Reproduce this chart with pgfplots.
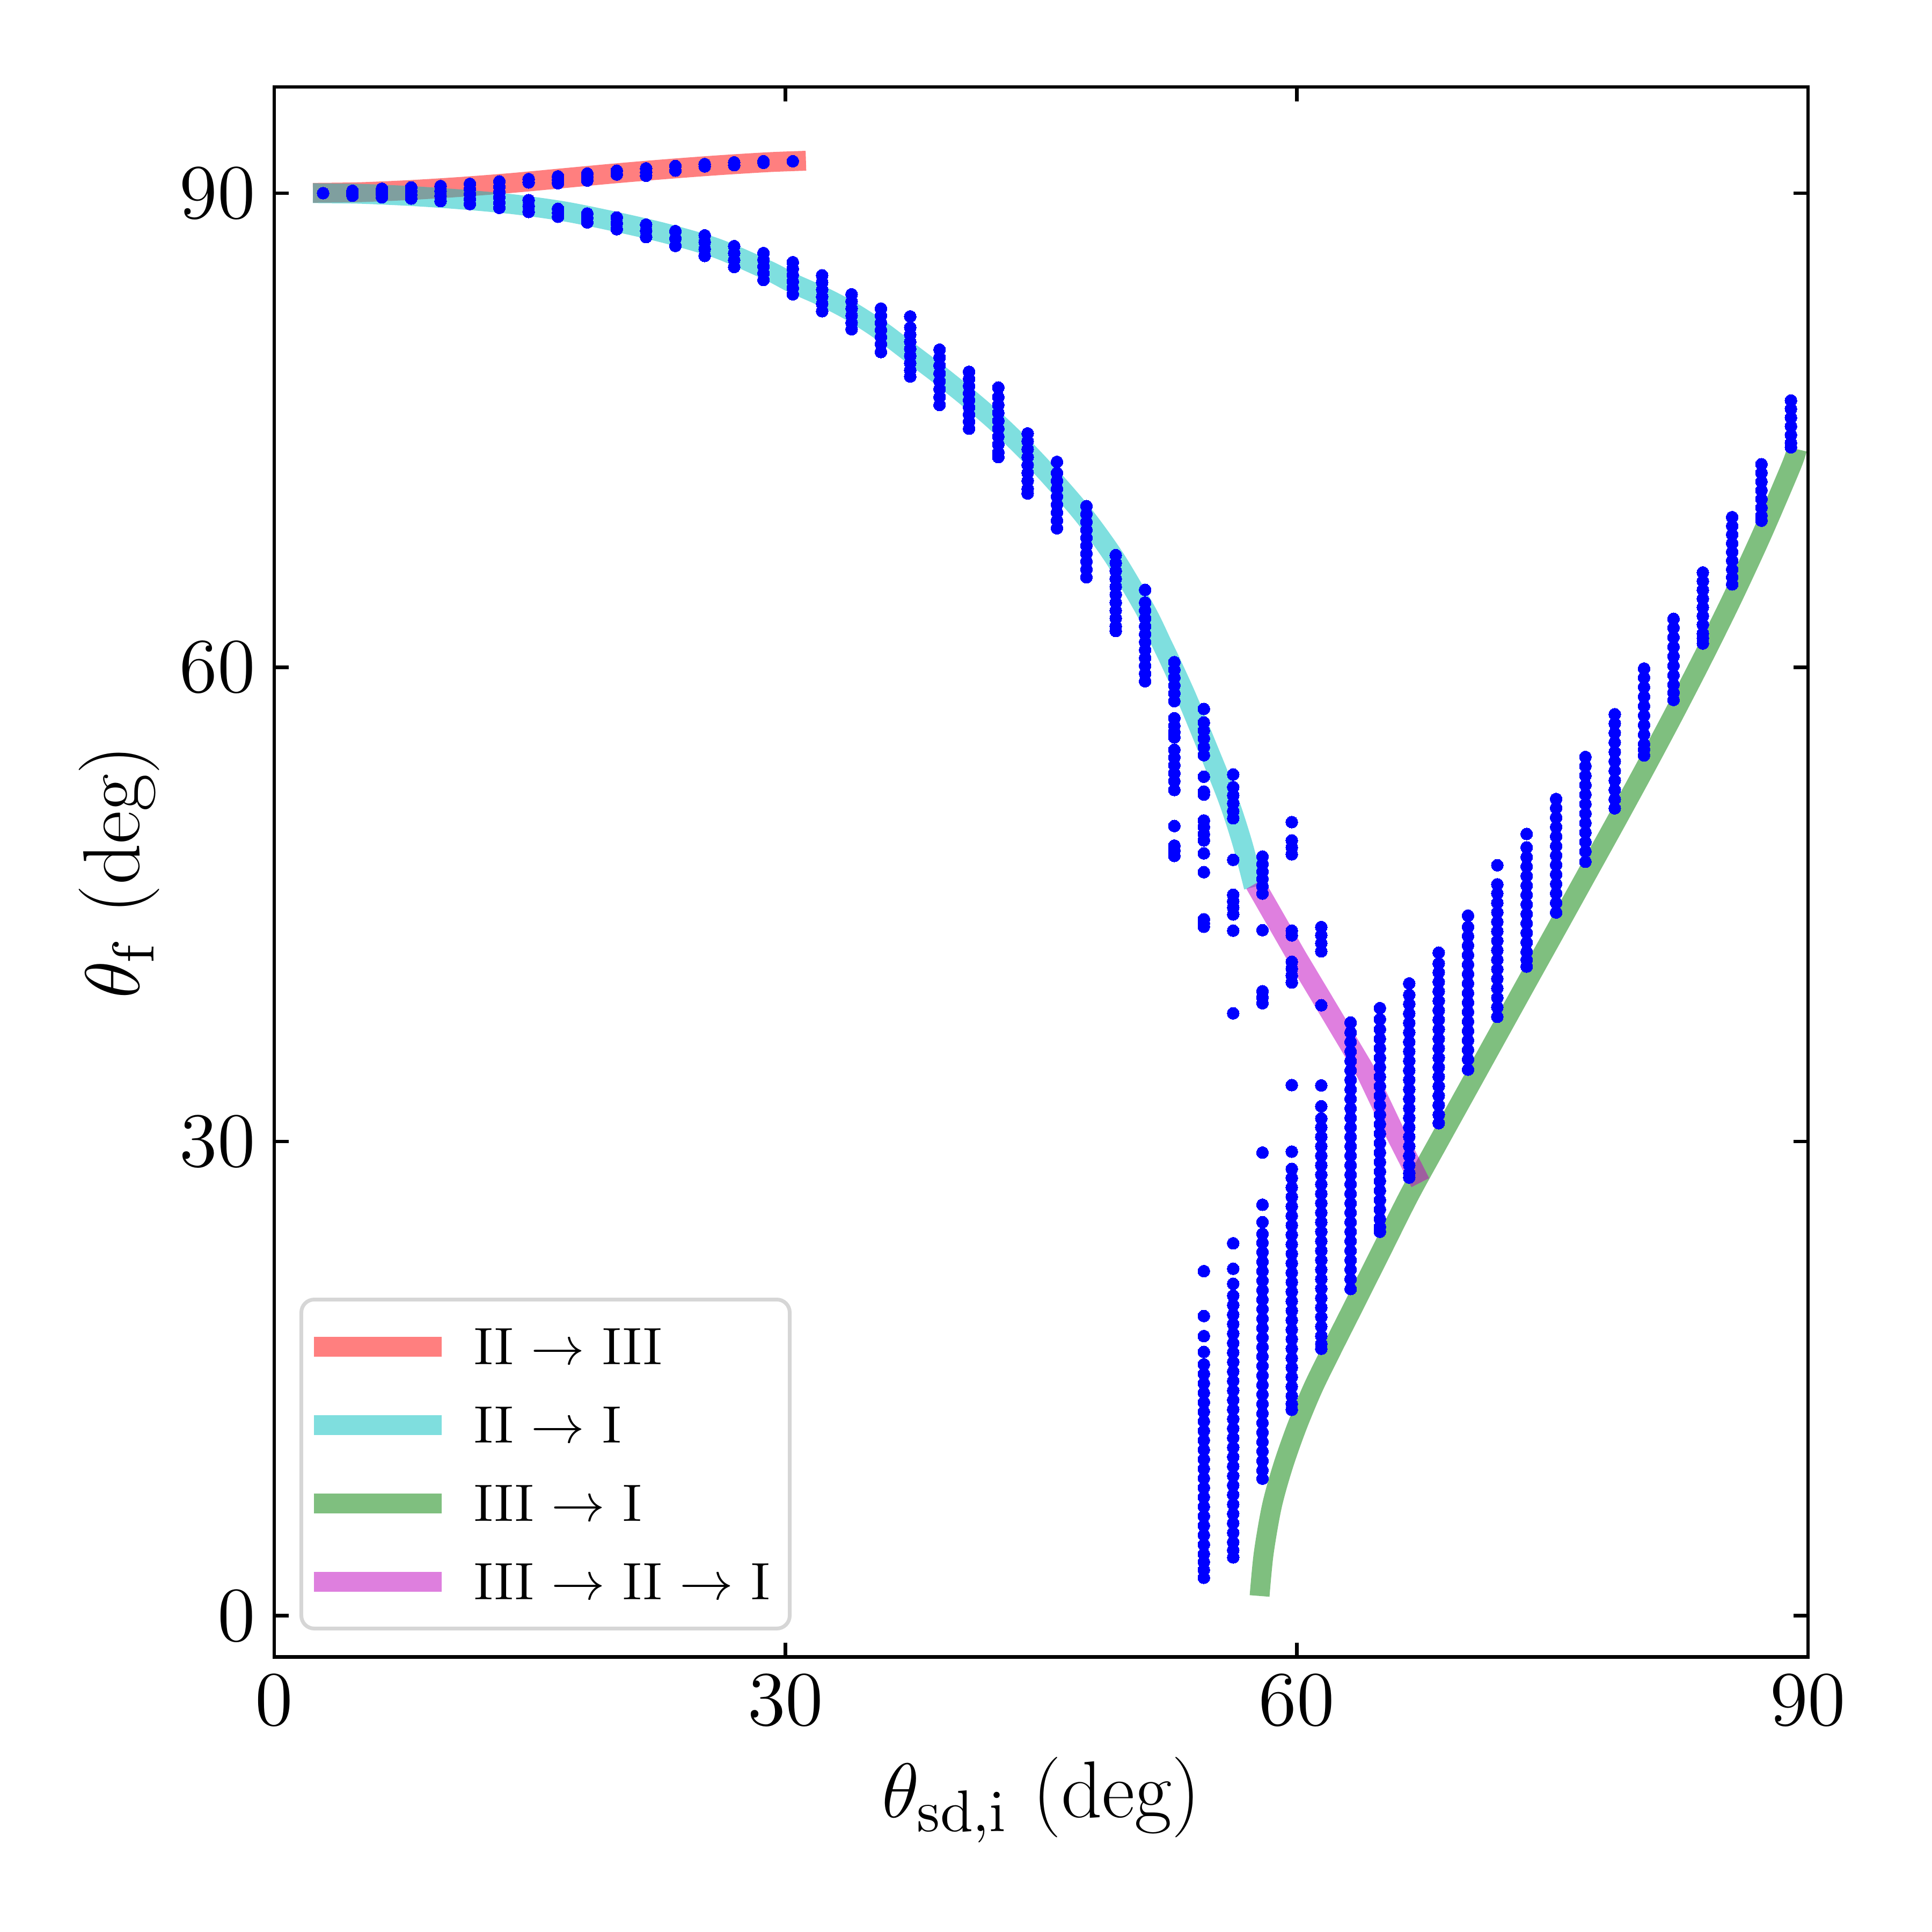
\documentclass[border=0pt]{standalone}
\usepackage{pgfplots}
\pgfplotsset{compat=1.18}
\definecolor{mred}{rgb}{1,0,0}
\definecolor{mcyan}{rgb}{0,0.75,0.75}
\definecolor{mgreen}{rgb}{0,0.5,0}
\definecolor{mmag}{rgb}{0.75,0,0.75}
\definecolor{legframe}{rgb}{0.84,0.84,0.84}
\begin{document}
\begin{tikzpicture}
\path[use as bounding box] (-51.1pt,-51.25pt) rectangle (308.9pt,308.75pt);
\begin{axis}[
  at={(0,0)}, anchor=south west,
  scale only axis, width=285.8pt, height=292.55pt,
  xmin=0, xmax=90, ymin=-2.61, ymax=96.72,
  xtick={0,30,60,90}, ytick={0,30,60,90},
  tick align=inside,
  major tick length=2.7pt,
  every tick/.style={black, line width=0.65pt},
  axis line style={line width=0.65pt},
  tick label style={font=\fontsize{15.5}{18}\selectfont, inner sep=0pt},
  xticklabel style={anchor=north, yshift=-3.25pt},
  yticklabel style={anchor=east, xshift=-3.3pt},
  xlabel={$\theta_{\mathrm{sd,i}}$ (deg)},
  ylabel={$\theta_{\mathrm{f}}$ (deg)},
  every axis x label/.style={at={(axis description cs:0.5,0)}, anchor=base, yshift=-29.9pt, font=\fontsize{15}{18}\selectfont},
  every axis y label/.style={at={(axis description cs:0,0.5)}, xshift=-25.1pt, rotate=90, anchor=base, font=\fontsize{15}{18}\selectfont},
  legend style={at={(0,0)}, anchor=south west, xshift=4.7pt, yshift=4.95pt,
    draw=legframe, line width=0.7pt, rounded corners=2.4pt, fill=white,
    inner xsep=0.5pt, inner ysep=5.4pt, row sep=7.9pt, column sep=4.2pt,
    font=\fontsize{9.8}{12}\selectfont,
    nodes={inner sep=0pt, text height=6.7pt, text depth=0pt}},
  legend cell align=left,
  legend image code/.code={\draw[#1, line width=3.7pt] (0pt,0pt) -- (23.8pt,0pt);},
]
\addplot[mred, opacity=0.5, line width=3.7pt, mark=none, smooth, tension=0.5] coordinates {
(2.27,90.02) (5,90.06) (8,90.2) (11,90.4) (14,90.65) (17,90.95) (20,91.25) (23,91.52) (26,91.76) (29,91.96) (31.2,92.05)};
\addlegendentry{II $\rightarrow$ III}
\addplot[mcyan, opacity=0.5, line width=3.7pt, mark=none, smooth, tension=0.5] coordinates {
(2.27,90.0) (5,89.96) (8,89.82) (11,89.6) (14,89.3) (17,88.85) (20,88.2) (23,87.45) (26,86.5) (29,85.1) (30.43,84.3) (32.2,83.45) (33.88,82.5) (35.6,81.3) (37.32,79.9) (39.04,78.5) (40.77,77.0) (42.49,75.4) (44.21,73.6) (45.93,71.6) (47.66,69.4) (49.38,66.8) (51.18,63.5) (52.09,61.48) (52.6,60.33) (53.5,58.2) (54.5,55.6) (55.94,51.74) (56.8,48.9) (57.48,46.1)};
\addlegendentry{II $\rightarrow$ I}
\addplot[mgreen, opacity=0.5, line width=3.7pt, mark=none, smooth, tension=0.5] coordinates {
(57.82,1.25) (58.06,3.94) (58.54,6.93) (59.18,9.42) (59.99,11.91) (60.95,14.4) (62.08,16.89) (63.3,19.5) (64.88,22.9) (66.6,26.6) (68.33,30.0) (70.05,33.35) (71.77,36.7) (73.49,40.05) (75.22,43.4) (76.94,46.75) (78.66,50.1) (80.38,53.5) (82.11,57.0) (83.83,60.6) (85.55,64.35) (87.27,68.35) (89.0,72.7) (89.35,73.8)};
\addlegendentry{III $\rightarrow$ I}
\addplot[mmag, opacity=0.5, line width=3.7pt, mark=none] coordinates {
(57.55,46.3) (60,41.7) (62,38.1) (64.1,34.3) (65.6,30.9) (67.25,27.4)};
\addlegendentry{III $\rightarrow$ II $\rightarrow$ I\rule{3.2pt}{0pt}}
\addplot[blue, only marks, mark=*, mark size=1.12pt, mark options={draw=blue, fill=blue, line width=0pt}, forget plot] coordinates {
(2.87,90.0)
(4.59,90.15) (4.59,90.0) (4.59,89.84)
(6.32,90.28) (6.32,90.1) (6.32,89.92) (6.32,89.74)
(8.04,90.36) (8.04,90.13) (8.04,89.9) (8.04,89.66)
(9.76,90.45) (9.76,90.13) (9.76,89.82) (9.76,89.5)
(11.48,90.59) (11.48,90.27) (11.48,89.95) (11.48,89.63) (11.48,89.31)
(13.21,90.74) (13.21,90.4) (13.21,90.07) (13.21,89.74) (13.21,89.4) (13.21,89.07)
(14.93,90.89) (14.93,90.68) (14.93,89.56) (14.93,89.18) (14.93,88.81)
(16.65,91.06) (16.65,90.85) (16.65,90.63) (16.65,89.01) (16.65,88.76) (16.65,88.51)
(18.37,91.24) (18.37,91.02) (18.37,90.8) (18.37,88.71) (18.37,88.43) (18.37,88.15)
(20.10,91.42) (20.10,91.18) (20.10,88.46) (20.10,88.09) (20.10,87.72)
(21.82,91.57) (21.82,91.33) (21.82,91.1) (21.82,88.01) (21.82,87.62) (21.82,87.22)
(23.54,91.72) (23.54,91.43) (23.54,87.6) (23.54,87.13) (23.54,86.66)
(25.26,91.84) (25.26,91.69) (25.26,87.33) (25.26,86.9) (25.26,86.46) (25.26,86.03)
(26.99,91.95) (26.99,91.77) (26.99,86.65) (26.99,86.21) (26.99,85.77) (26.99,85.33)
(28.71,92.02) (28.71,91.92) (28.71,86.21) (28.71,85.78) (28.71,85.36) (28.71,84.94) (28.71,84.51)
(30.43,92.02) (30.43,85.63) (30.43,85.22) (30.43,84.82) (30.43,84.41) (30.43,84.0) (30.43,83.6)
(32.15,84.8) (32.15,84.35) (32.15,83.9) (32.15,83.45) (32.15,83.0) (32.15,82.53)
(33.88,83.6) (33.88,83.15) (33.88,82.7) (33.88,82.25) (33.88,81.8) (33.88,81.39)
(35.60,82.7) (35.60,82.25) (35.60,81.8) (35.60,81.35) (35.60,80.9) (35.60,80.45) (35.60,79.95)
(37.32,82.2) (37.32,81.5) (37.32,81.05) (37.32,80.6) (37.32,80.15) (37.32,79.7) (37.32,79.25) (37.32,78.8) (37.32,78.4)
(39.04,80.1) (39.04,79.6) (39.04,79.1) (39.04,78.6) (39.04,78.1) (39.04,77.6) (39.04,77.1) (39.04,76.6)
(40.77,78.7) (40.77,78.25) (40.77,77.8) (40.77,77.35) (40.77,76.9) (40.77,76.45) (40.77,76.0) (40.77,75.55) (40.77,75.1)
(42.49,77.7) (42.49,77.1) (42.49,76.6) (42.49,76.1) (42.49,75.6) (42.49,75.1) (42.49,74.6) (42.49,74.1) (42.49,73.6) (42.49,73.3)
(44.21,74.8) (44.21,74.3) (44.21,73.8) (44.21,73.3) (44.21,72.8) (44.21,72.3) (44.21,71.8) (44.21,71.3) (44.21,71.0)
(45.93,73.0) (45.93,72.3) (45.93,71.8) (45.93,71.3) (45.93,70.8) (45.93,70.3) (45.93,69.8) (45.93,69.3) (45.93,68.8)
(47.66,70.2) (47.66,69.7) (47.66,69.2) (47.66,68.7) (47.66,68.2) (47.66,67.7) (47.66,67.2) (47.66,66.7) (47.66,66.2) (47.66,65.7)
(49.38,67.1) (49.38,66.6) (49.38,66.1) (49.38,65.6) (49.38,65.1) (49.38,64.6) (49.38,64.1) (49.38,63.6) (49.38,63.1) (49.38,62.6) (49.38,62.3)
(51.10,64.9) (51.10,64.1) (51.10,63.6) (51.10,63.1) (51.10,62.6) (51.10,62.1) (51.10,61.6) (51.10,61.1) (51.10,60.6) (51.10,60.1) (51.10,59.6) (51.10,59.12)
(52.82,60.33) (52.82,59.85) (52.82,59.35) (52.82,58.85) (52.82,58.35) (52.82,57.86) (52.82,56.78) (52.82,56.3) (52.82,55.9) (52.82,55.57) (52.82,54.78) (52.82,54.3) (52.82,53.8) (52.82,53.3) (52.82,52.8) (52.82,52.24) (52.82,49.96) (52.82,48.72) (52.82,48.4) (52.82,48.07)
(54.55,57.37) (54.55,56.51) (54.55,56.0) (54.55,55.5) (54.55,54.95) (54.55,54.44) (54.55,53.08) (54.55,52.14) (54.55,51.95) (54.55,50.31) (54.55,49.9) (54.55,49.45) (54.55,49.05) (54.55,48.23) (54.55,47.04) (54.55,44.06) (54.55,43.8) (54.55,43.59) (54.55,21.8) (54.55,18.96) (54.55,17.69) (54.55,16.69) (54.55,15.9) (54.55,15.3) (54.55,14.7) (54.55,14.1) (54.55,13.5) (54.55,12.9) (54.55,12.3) (54.55,11.7) (54.55,11.1) (54.55,10.5) (54.55,9.9) (54.55,9.3) (54.55,8.7) (54.55,8.1) (54.55,7.5) (54.55,6.9) (54.55,6.3) (54.55,5.7) (54.55,5.1) (54.55,4.5) (54.55,3.9) (54.55,3.4) (54.55,2.9) (54.55,2.4)
(56.27,53.22) (56.27,52.42) (56.27,51.9) (56.27,51.4) (56.27,50.9) (56.27,50.45) (56.27,47.82) (56.27,45.61) (56.27,45.2) (56.27,44.8) (56.27,44.37) (56.27,43.34) (56.27,38.11) (56.27,23.56) (56.27,21.95) (56.27,21.0) (56.27,20.25) (56.27,19.65) (56.27,19.05) (56.27,18.45) (56.27,17.85) (56.27,17.25) (56.27,16.65) (56.27,16.05) (56.27,15.45) (56.27,14.85) (56.27,14.25) (56.27,13.65) (56.27,13.05) (56.27,12.45) (56.27,11.85) (56.27,11.25) (56.27,10.65) (56.27,10.05) (56.27,9.45) (56.27,8.85) (56.27,8.25) (56.27,7.65) (56.27,7.05) (56.27,6.45) (56.27,5.85) (56.27,5.25) (56.27,4.65) (56.27,4.15) (56.27,3.69)
(57.99,48.03) (57.99,47.55) (57.99,47.08) (57.99,46.62) (57.99,46.15) (57.99,45.69) (57.99,43.37) (57.99,39.51) (57.99,39.12) (57.99,38.75) (57.99,29.3) (57.99,26.0) (57.99,24.9) (57.99,24.16) (57.99,23.6) (57.99,23.0) (57.99,22.4) (57.99,21.8) (57.99,21.2) (57.99,20.6) (57.99,20.0) (57.99,19.4) (57.99,18.8) (57.99,18.2) (57.99,17.6) (57.99,17.0) (57.99,16.4) (57.99,15.8) (57.99,15.2) (57.99,14.6) (57.99,14.0) (57.99,13.4) (57.99,12.8) (57.99,12.2) (57.99,11.6) (57.99,11.0) (57.99,10.4) (57.99,9.8) (57.99,9.2) (57.99,8.67)
(59.71,50.21) (59.71,49.05) (59.71,48.6) (59.71,48.17) (59.71,43.34) (59.71,43.04) (59.71,41.37) (59.71,40.93) (59.71,40.5) (59.71,40.06) (59.71,33.57) (59.71,29.36) (59.71,28.27) (59.71,27.7) (59.71,27.1) (59.71,26.5) (59.71,25.9) (59.71,25.3) (59.71,24.7) (59.71,24.1) (59.71,23.5) (59.71,22.9) (59.71,22.3) (59.71,21.7) (59.71,21.1) (59.71,20.5) (59.71,19.9) (59.71,19.3) (59.71,18.7) (59.71,18.1) (59.71,17.5) (59.71,16.9) (59.71,16.3) (59.71,15.7) (59.71,15.1) (59.71,14.5) (59.71,13.9) (59.71,13.4) (59.71,13.03)
(61.44,43.57) (61.44,43.06) (61.44,42.55) (61.44,42.03) (61.44,38.62) (61.44,33.55) (61.44,32.23) (61.44,31.46) (61.44,30.9) (61.44,30.3) (61.44,29.7) (61.44,29.1) (61.44,28.5) (61.44,27.9) (61.44,27.3) (61.44,26.7) (61.44,26.1) (61.44,25.5) (61.44,24.9) (61.44,24.3) (61.44,23.7) (61.44,23.1) (61.44,22.5) (61.44,21.9) (61.44,21.3) (61.44,20.7) (61.44,20.1) (61.44,19.5) (61.44,18.9) (61.44,18.3) (61.44,17.7) (61.44,17.2) (61.44,16.89)
(63.16,37.53) (63.16,36.9) (63.16,36.3) (63.16,35.7) (63.16,35.1) (63.16,34.5) (63.16,33.9) (63.16,33.3) (63.16,32.7) (63.16,32.1) (63.16,31.5) (63.16,30.9) (63.16,30.3) (63.16,29.7) (63.16,29.1) (63.16,28.5) (63.16,27.9) (63.16,27.3) (63.16,26.7) (63.16,26.1) (63.16,25.5) (63.16,24.9) (63.16,24.3) (63.16,23.7) (63.16,23.1) (63.16,22.5) (63.16,21.9) (63.16,21.3) (63.16,20.67)
(64.88,38.44) (64.88,37.74) (64.88,37.1) (64.88,36.5) (64.88,35.9) (64.88,35.3) (64.88,34.7) (64.88,34.1) (64.88,33.5) (64.88,32.9) (64.88,32.3) (64.88,31.7) (64.88,31.1) (64.88,30.5) (64.88,29.9) (64.88,29.3) (64.88,28.7) (64.88,28.1) (64.88,27.5) (64.88,26.9) (64.88,26.3) (64.88,25.7) (64.88,25.1) (64.88,24.6) (64.88,24.29)
(66.60,40.0) (66.60,39.28) (66.60,38.7) (66.60,38.1) (66.60,37.5) (66.60,36.9) (66.60,36.3) (66.60,35.7) (66.60,35.1) (66.60,34.5) (66.60,33.9) (66.60,33.3) (66.60,32.7) (66.60,32.1) (66.60,31.5) (66.60,30.9) (66.60,30.3) (66.60,29.7) (66.60,29.1) (66.60,28.5) (66.60,28.0) (66.60,27.72)
(68.33,41.95) (68.33,41.27) (68.33,40.7) (68.33,40.1) (68.33,39.5) (68.33,38.9) (68.33,38.3) (68.33,37.7) (68.33,37.1) (68.33,36.5) (68.33,35.9) (68.33,35.3) (68.33,34.7) (68.33,34.1) (68.33,33.5) (68.33,32.9) (68.33,32.3) (68.33,31.7) (68.33,31.16)
(70.05,44.29) (70.05,43.58) (70.05,43.0) (70.05,42.4) (70.05,41.8) (70.05,41.2) (70.05,40.6) (70.05,40.0) (70.05,39.4) (70.05,38.8) (70.05,38.2) (70.05,37.6) (70.05,37.0) (70.05,36.4) (70.05,35.8) (70.05,35.2) (70.05,34.55)
(71.77,47.48) (71.77,46.27) (71.77,45.7) (71.77,45.1) (71.77,44.5) (71.77,43.9) (71.77,43.3) (71.77,42.7) (71.77,42.1) (71.77,41.5) (71.77,40.9) (71.77,40.3) (71.77,39.7) (71.77,39.1) (71.77,38.5) (71.77,37.89)
(73.49,49.46) (73.49,48.61) (73.49,48.0) (73.49,47.4) (73.49,46.8) (73.49,46.2) (73.49,45.6) (73.49,45.0) (73.49,44.4) (73.49,43.8) (73.49,43.2) (73.49,42.6) (73.49,42.0) (73.49,41.5) (73.49,41.07)
(75.22,51.67) (75.22,51.1) (75.22,50.5) (75.22,49.9) (75.22,49.3) (75.22,48.7) (75.22,48.1) (75.22,47.5) (75.22,46.9) (75.22,46.3) (75.22,45.7) (75.22,45.1) (75.22,44.49)
(76.94,54.33) (76.94,53.75) (76.94,53.15) (76.94,52.55) (76.94,51.95) (76.94,51.35) (76.94,50.75) (76.94,50.15) (76.94,49.55) (76.94,48.95) (76.94,48.35) (76.94,47.7)
(78.66,57.03) (78.66,56.45) (78.66,55.85) (78.66,55.25) (78.66,54.65) (78.66,54.05) (78.66,53.45) (78.66,52.85) (78.66,52.25) (78.66,51.65) (78.66,51.08)
(80.38,59.92) (80.38,59.35) (80.38,58.75) (80.38,58.15) (80.38,57.55) (80.38,56.95) (80.38,56.35) (80.38,55.75) (80.38,55.15) (80.38,54.8) (80.38,54.43)
(82.11,63.07) (82.11,62.5) (82.11,61.9) (82.11,61.3) (82.11,60.7) (82.11,60.1) (82.11,59.5) (82.11,58.9) (82.11,58.4) (82.11,57.94)
(83.83,66.0) (83.83,65.45) (83.83,64.9) (83.83,64.35) (83.83,63.8) (83.83,63.25) (83.83,62.7) (83.83,62.15) (83.83,61.85) (83.83,61.51)
(85.55,69.5) (85.55,68.95) (85.55,68.4) (85.55,67.85) (85.55,67.3) (85.55,66.75) (85.55,66.2) (85.55,65.7) (85.55,65.25)
(87.27,72.85) (87.27,72.3) (87.27,71.75) (87.27,71.2) (87.27,70.65) (87.27,70.1) (87.27,69.6) (87.27,69.28)
(89.00,76.88) (89.00,76.35) (89.00,75.8) (89.00,75.25) (89.00,74.7) (89.00,74.2) (89.00,73.92)
};
\end{axis}
\end{tikzpicture}
\end{document}
